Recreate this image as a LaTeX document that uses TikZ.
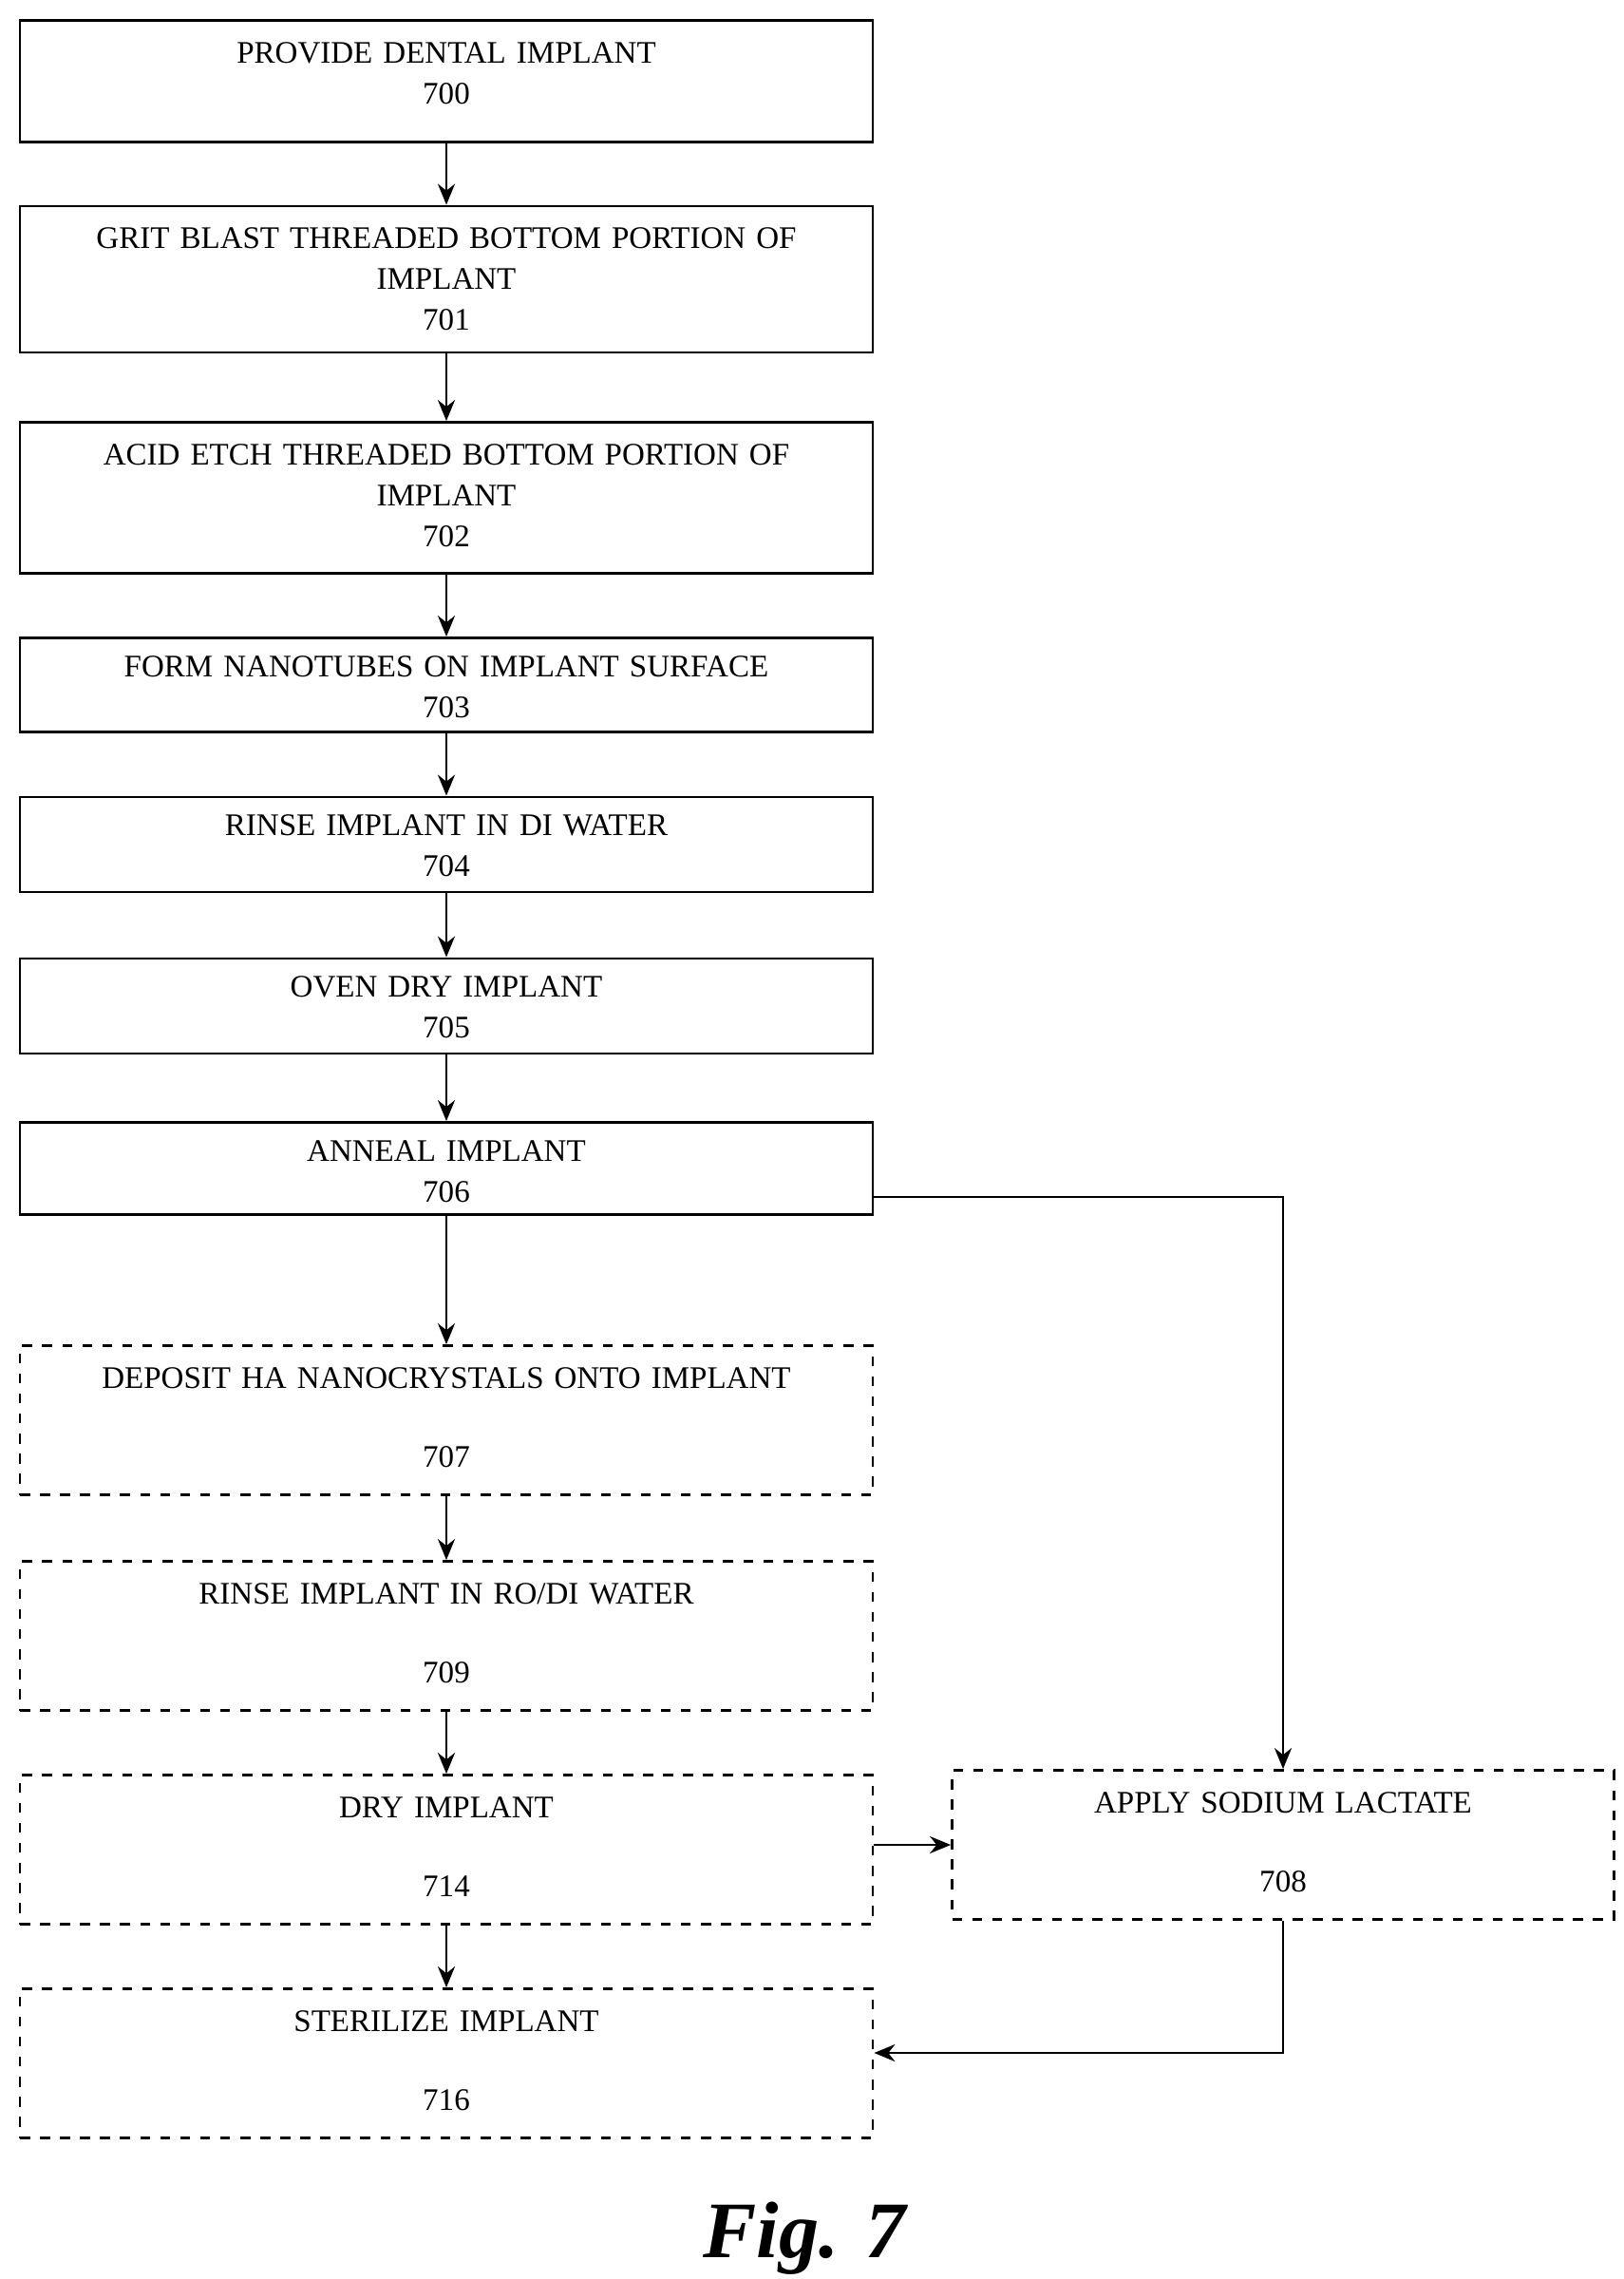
\documentclass[tikz,border=0pt]{standalone}
\usepackage{fontspec}
\setmainfont{Liberation Serif}
\usetikzlibrary{arrows.meta}

\tikzset{
	procbox/.style={draw, thick, rectangle, minimum width=8.98cm, inner sep=0pt},
	optbox/.style={procbox, dashed},
	boxtext/.style={anchor=north, align=center, text width=8.6cm, font=\fontsize{9.4}{12.2}\selectfont},
	flow/.style={thick, -{Stealth[length=2.2mm, width=1.8mm]}}
}

\begin{document}
\begin{tikzpicture}
			\useasboundingbox (0,0) rectangle (17.1,-23.99);
			
			% Main process boxes
			\node[procbox, minimum height=1.28cm] (s700) at (4.70,-0.855) {};
			\node[procbox, minimum height=1.54cm] (s701) at (4.70,-2.94) {};
			\node[procbox, minimum height=1.59cm] (s702) at (4.70,-5.24) {};
			\node[procbox, minimum height=0.99cm] (s703) at (4.70,-7.21) {};
			\node[procbox, minimum height=1.00cm] (s704) at (4.70,-8.89) {};
			\node[procbox, minimum height=1.00cm] (s705) at (4.70,-10.59) {};
			\node[procbox, minimum height=0.97cm] (s706) at (4.70,-12.30) {};
			
			% Optional boxes
			\node[optbox, minimum height=1.57cm] (s707) at (4.70,-14.95) {};
			\node[optbox, minimum height=1.57cm] (s709) at (4.70,-17.22) {};
			\node[optbox, minimum height=1.57cm] (s714) at (4.70,-19.47) {};
			\node[optbox, minimum height=1.57cm] (s716) at (4.70,-21.72) {};
			\node[optbox, minimum height=1.57cm, minimum width=6.97cm] (s708) at (13.51,-19.42) {};
			
			% Texts
			\node[boxtext] (t700) at ([yshift=-0.12cm]s700.north) {PROVIDE DENTAL IMPLANT\\700};
			\node[boxtext] (t701) at ([yshift=-0.12cm]s701.north) {GRIT BLAST THREADED BOTTOM PORTION OF\\IMPLANT\\701};
			\node[boxtext] (t702) at ([yshift=-0.12cm]s702.north) {ACID ETCH THREADED BOTTOM PORTION OF\\IMPLANT\\702};
			\node[boxtext] (t703) at ([yshift=-0.08cm]s703.north) {FORM NANOTUBES ON IMPLANT SURFACE\\703};
			\node[boxtext] (t704) at ([yshift=-0.08cm]s704.north) {RINSE IMPLANT IN DI WATER\\704};
			\node[boxtext] (t705) at ([yshift=-0.08cm]s705.north) {OVEN DRY IMPLANT\\705};
			\node[boxtext] (t706) at ([yshift=-0.08cm]s706.north) {ANNEAL IMPLANT\\706};
			\node[boxtext] (t707) at ([yshift=-0.12cm]s707.north) {DEPOSIT HA NANOCRYSTALS ONTO IMPLANT\\[0.4cm]707};
			\node[boxtext] (t709) at ([yshift=-0.12cm]s709.north) {RINSE IMPLANT IN RO/DI WATER\\[0.4cm]709};
			\node[boxtext] (t714) at ([yshift=-0.12cm]s714.north) {DRY IMPLANT\\[0.4cm]714};
			\node[boxtext] (t716) at ([yshift=-0.12cm]s716.north) {STERILIZE IMPLANT\\[0.4cm]716};
			\node[boxtext, text width=6.6cm] (t708) at ([yshift=-0.12cm]s708.north) {APPLY SODIUM LACTATE\\[0.4cm]708};
			
			% Connectors
			\foreach \a/\b in {s700/s701, s701/s702, s702/s703, s703/s704, s704/s705, s705/s706, s706/s707, s707/s709, s709/s714, s714/s716}
			\draw[flow] (\a) -- (\b);
			\draw[flow] ([yshift=-0.3cm]s706.east) -| (s708.north);
			\draw[flow] ([yshift=0.05cm]s714.east) -- ([yshift=0.05cm]s714.east -| s708.west);
			\draw[flow] (s708.south) |- ([yshift=0.11cm]s716.east);
			
			\node[font=\fontsize{24}{28}\selectfont\bfseries\itshape] (fig) at (8.47,-23.56) {Fig. 7};
		\end{tikzpicture}
\end{document}
